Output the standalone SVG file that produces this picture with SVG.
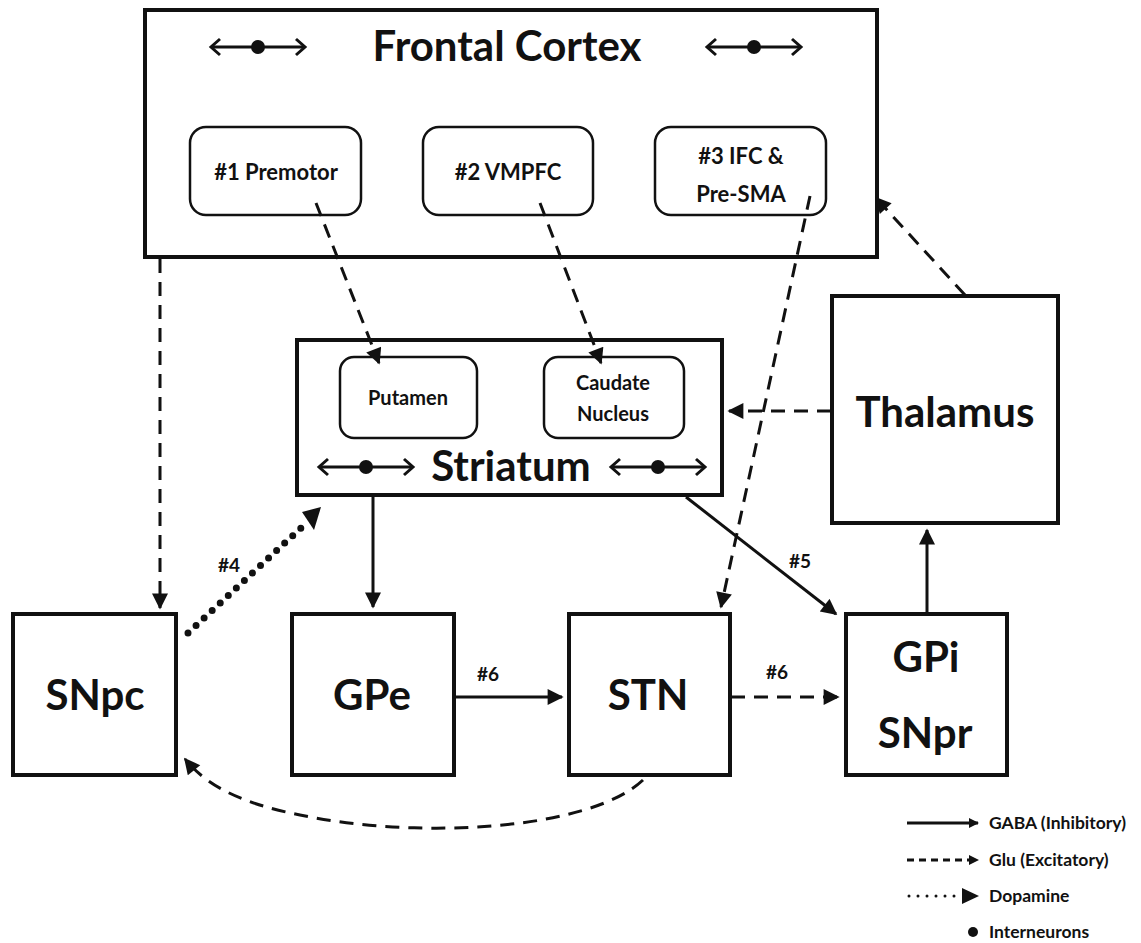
<svg xmlns="http://www.w3.org/2000/svg" width="1141" height="943" viewBox="0 0 1141 943">
<style>
.box{fill:#fff;stroke:#111;stroke-width:4}
.sub{fill:#fff;stroke:#111;stroke-width:2.5}
.t{font-family:Lato,"Open Sans",sans-serif;font-weight:bold;fill:#111;text-anchor:middle}
.big{font-size:42px}
.sm{font-size:22px}
.xs{font-size:20px}
.lbl{font-size:19px}
.leg{font-family:Lato,"Open Sans",sans-serif;font-weight:bold;fill:#111;font-size:17.5px}
.c{fill:none;stroke:#111;stroke-width:3}
.dash{stroke-dasharray:14 9}
.dot{stroke-dasharray:0 11;stroke-linecap:round;stroke-width:7}
.ia{fill:none;stroke:#111;stroke-width:3}
</style>
<defs>
<marker id="ah" viewBox="0 0 10 10" refX="9" refY="5" markerWidth="18" markerHeight="16" markerUnits="userSpaceOnUse" orient="auto"><path d="M0,0 L10,5 L0,10 z" fill="#111"/></marker>
<marker id="ahs" viewBox="0 0 10 10" refX="9" refY="5" markerWidth="12" markerHeight="10" markerUnits="userSpaceOnUse" orient="auto"><path d="M0,0 L10,5 L0,10 z" fill="#111"/></marker>
<g id="inter">
<line x1="-46" y1="0" x2="46" y2="0" class="ia"/>
<path d="M-38,-8 L-47,0 L-38,8 M38,-8 L47,0 L38,8" class="ia"/>
<circle cx="0" cy="0" r="7" fill="#111"/>
</g>
</defs>

<g id="frontal-cortex">
<rect class="box" x="145" y="10" width="732" height="247"/>
<text class="t big" x="507" y="61">Frontal Cortex</text>
<use href="#inter" x="258" y="47"/>
<use href="#inter" x="754" y="47"/>
</g>
<g id="premotor">
<rect class="sub" x="190" y="127" width="171" height="88" rx="16"/>
<text class="t sm" x="276" y="180">#1 Premotor</text>
</g>
<g id="vmpfc">
<rect class="sub" x="423" y="127" width="170" height="88" rx="16"/>
<text class="t sm" x="508" y="180">#2 VMPFC</text>
</g>
<g id="ifc">
<rect class="sub" x="655" y="127" width="171" height="88" rx="16"/>
<text class="t sm" x="741" y="164">#3 IFC &amp;</text>
<text class="t sm" x="741" y="202">Pre-SMA</text>
</g>

<g id="striatum">
<rect class="box" x="297" y="340" width="425" height="155"/>
<text class="t big" x="511" y="481">Striatum</text>
<use href="#inter" x="366" y="467"/>
<use href="#inter" x="658" y="467"/>
</g>
<g id="putamen">
<rect class="sub" x="340" y="357" width="137" height="81" rx="14"/>
<text class="t xs" x="408" y="405">Putamen</text>
</g>
<g id="caudate">
<rect class="sub" x="544" y="357" width="140" height="81" rx="14"/>
<text class="t xs" x="613" y="390">Caudate</text>
<text class="t xs" x="613" y="421">Nucleus</text>
</g>

<g id="thalamus">
<rect class="box" x="832" y="296" width="226" height="227"/>
<text class="t big" x="945" y="427">Thalamus</text>
</g>
<g id="snpc">
<rect class="box" x="13" y="614" width="163" height="161"/>
<text class="t big" x="95" y="710">SNpc</text>
</g>
<g id="gpe">
<rect class="box" x="292" y="614" width="162" height="161"/>
<text class="t big" x="372" y="710">GPe</text>
</g>
<g id="stn">
<rect class="box" x="569" y="614" width="161" height="161"/>
<text class="t big" x="648" y="710">STN</text>
</g>
<g id="gpi-snpr">
<rect class="box" x="846" y="614" width="161" height="161"/>
<text class="t big" x="926" y="672">GPi</text>
<text class="t big" x="925" y="748">SNpr</text>
</g>

<g id="connectors">
<line class="c dash" x1="160" y1="259" x2="160" y2="608" marker-end="url(#ah)"/>
<line class="c dash" x1="316" y1="203" x2="379" y2="363" marker-end="url(#ah)"/>
<line class="c dash" x1="540" y1="203" x2="601" y2="363" marker-end="url(#ah)"/>
<line class="c dash" x1="810" y1="196" x2="721" y2="607" marker-end="url(#ah)"/>
<line class="c dash" x1="965" y1="295" x2="876" y2="198" marker-end="url(#ah)"/>
<line class="c dash" x1="831" y1="411" x2="729" y2="411" marker-end="url(#ah)"/>
<line class="c" x1="373" y1="497" x2="373" y2="607" marker-end="url(#ah)"/>
<line class="c" x1="686" y1="497" x2="836" y2="614" marker-end="url(#ah)"/>
<line class="c" x1="927" y1="613" x2="927" y2="530" marker-end="url(#ah)"/>
<line class="c" x1="454" y1="697" x2="562" y2="697" marker-end="url(#ah)"/>
<line class="c dash" x1="731" y1="697" x2="838" y2="697" marker-end="url(#ah)"/>
<line class="c dot" x1="188" y1="633" x2="302" y2="527"/>
<path d="M302,512 L321,507 L314,530 z" fill="#111"/>
<path class="c dash" d="M643,780 C590,830 420,840 300,815 C250,805 210,790 185,759" marker-end="url(#ah)"/>
<text class="t lbl" x="229" y="572">#4</text>
<text class="t lbl" x="800" y="568">#5</text>
<text class="t lbl" x="488" y="681">#6</text>
<text class="t lbl" x="777" y="679">#6</text>
</g>

<g id="legend">
<line class="c" x1="907" y1="823" x2="978" y2="823" stroke-width="2" marker-end="url(#ahs)"/>
<text class="leg" x="989" y="829">GABA (Inhibitory)</text>
<line class="c" x1="907" y1="860" x2="978" y2="860" stroke-width="2" stroke-dasharray="7 5" marker-end="url(#ahs)"/>
<text class="leg" x="989" y="866">Glu (Excitatory)</text>
<line class="c" x1="909" y1="896" x2="962" y2="896" stroke-width="5" stroke-dasharray="0 9" stroke-linecap="round"/>
<path d="M962,888 L979,896 L962,904 z" fill="#111"/>
<text class="leg" x="989" y="902">Dopamine</text>
<circle cx="973" cy="932" r="5" fill="#111"/>
<text class="leg" x="989" y="938">Interneurons</text>
</g>
</svg>
